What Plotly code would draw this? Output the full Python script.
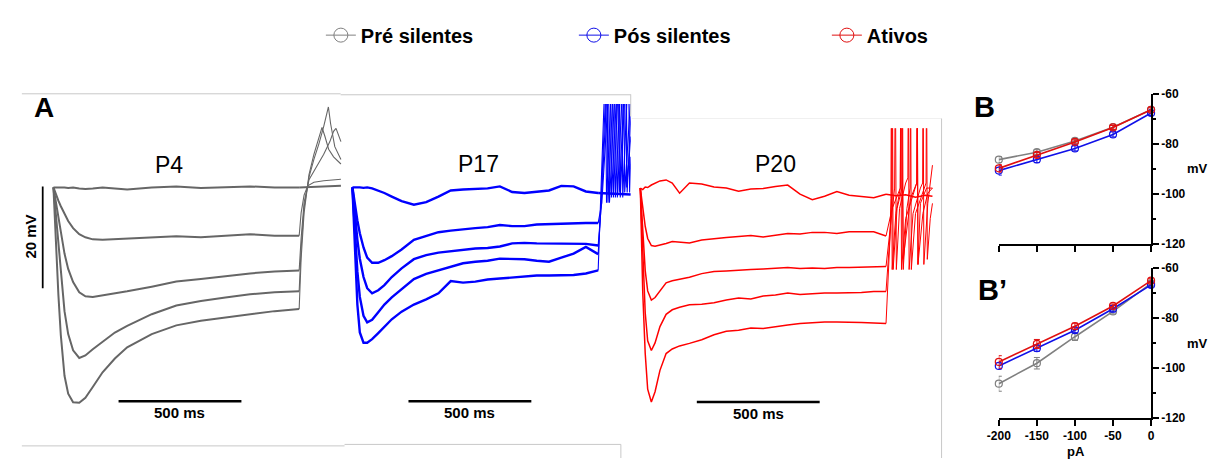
import plotly.graph_objects as go

W, H = 1213, 465
FONT = "Liberation Sans, Arial, sans-serif"

# ---------------- Panel A data: membrane potential change from rest (mV) vs time (ms) ----------------
P4_T = [0, 10, 20, 30, 45, 60, 80, 105, 130, 160, 200, 250, 300, 400, 500, 600, 700, 800, 900, 1000]
P4_V1 = [0, 0, 0, 0.1, 0, -0.1, 0, -0.2, -0.3, -0.2, 0, -0.2, -0.4, 0, 0.2, -0.1, 0.1, 0.2, 0, 0]
P4_V2 = [0, -1.4, -2.6, -3.7, -5.2, -6.6, -8.0, -9.2, -9.8, -10.2, -10.3, -10.2, -10.1, -9.9, -9.6, -9.8, -9.5, -9.2, -9.5, -9.5]
P4_V3 = [0, -3.0, -6.0, -9.0, -13.0, -16.0, -18.6, -20.6, -21.4, -21.5, -21.2, -20.8, -20.4, -19.5, -18.5, -18.0, -17.4, -16.9, -16.5, -16.3]
P4_V4 = [0, -5.5, -11.6, -16.5, -24.3, -28.8, -32.0, -33.5, -33.0, -31.8, -30.4, -28.5, -27.2, -24.9, -23.2, -22.3, -21.6, -21.0, -20.6, -20.4]
P4_V5 = [0, -11.0, -21.0, -29.0, -37.0, -40.5, -42.2, -42.3, -41.3, -39.2, -36.3, -33.6, -31.4, -28.8, -27.1, -26.2, -25.6, -24.9, -24.3, -23.9]
# after the current step (rebound)
P4_PT1 = [1040, 1080, 1120, 1170]
P4_PV1 = [0.1, 0.2, 0.3, 0.3]
P4_PT2 = [1008, 1020, 1035, 1060, 1100, 1170]
P4_PV2 = [-5.0, -1.5, 0.3, 1.0, 1.3, 1.6]
P4_PT3 = [1008, 1020, 1040, 1070, 1100, 1125, 1140, 1150, 1160, 1170]
P4_PV3 = [-10, -3, 1.5, 4.0, 6.5, 9, 11, 11.6, 10.2, 9.0]
P4_PT4 = [1008, 1020, 1040, 1060, 1080, 1100, 1112, 1119, 1128, 1145, 1170]
P4_PV4 = [-12, -4, 2.0, 5.5, 8.5, 12, 14.8, 15.8, 12.5, 8.0, 5.5]
P4_PT5 = [1008, 1020, 1040, 1060, 1080, 1093, 1105, 1120, 1140, 1170]
P4_PV5 = [-14, -5, 2.5, 6.5, 10, 11.8, 10, 7.5, 6, 4.6]

GRID_T = [0, 10, 20, 30, 45, 60, 80, 105, 130, 160, 200, 250, 300, 350, 400, 450, 500,
          550, 600, 650, 700, 750, 800, 850, 900, 950, 1000]
P17_V1 = [0, 0, 0.1, 0, -0.1, 0, -0.2, -0.6, -1.1, -1.8, -2.7, -3.4, -2.9, -1.8, -0.6, -0.4, -0.3, -0.2, 0.2, -0.9, -1.1, -0.8, -0.6, 0.3, 0.2, -0.8, -1.1]
P17_V2 = [0, -3.5, -6.5, -9.0, -11.8, -13.8, -14.8, -14.8, -14.3, -13.5, -12.2, -10.3, -9.5, -8.8, -8.5, -8.2, -8.0, -7.8, -7.4, -7.6, -7.6, -7.3, -7.2, -7.1, -7.0, -7.0, -7.0]
P17_V3 = [0, -5.5, -10.3, -14.0, -17.6, -19.8, -20.8, -20.2, -19.2, -17.6, -15.9, -14.1, -13.3, -12.8, -12.5, -12.3, -12.0, -11.9, -11.6, -11.0, -10.9, -11.0, -11.0, -11.0, -11.0, -11.1, -11.4]
P17_V4 = [0, -9.0, -16.5, -21.5, -25.2, -26.5, -26.0, -24.5, -23.0, -21.6, -20.0, -18.0, -17.0, -16.3, -15.5, -14.9, -14.6, -14.4, -14.0, -14.0, -14.1, -14.4, -14.6, -13.8, -13.0, -11.7, -13.1]
P17_V5 = [0, -12.2, -23.0, -28.5, -30.5, -30.5, -29.8, -28.6, -27.4, -25.9, -24.4, -23.0, -22.0, -20.8, -18.4, -18.7, -18.5, -18.1, -17.9, -17.7, -17.5, -17.3, -17.3, -17.3, -17.2, -16.9, -16.3]
P17_PT1 = [1040, 1080, 1133]
P17_PV1 = [-1.2, -1.3, -1.4]
P17_PT2 = [1015, 1050, 1054, 1082, 1086, 1112, 1116, 1133]
P17_PV2 = [-3, 25, -2, 25, -1, 25, 0, 10]
P17_PT3 = [1012, 1042, 1046, 1074, 1078, 1104, 1108, 1133]
P17_PV3 = [-4, 25, -3, 25, -2, 25, -1, 18]
P17_PT4 = [1010, 1036, 1040, 1066, 1070, 1096, 1100, 1124, 1128, 1133]
P17_PV4 = [-5, 25, -3, 25, -2, 25, -2, 25, -1, 6]
P17_PT5 = [1008, 1030, 1034, 1058, 1062, 1086, 1090, 1114, 1118, 1133]
P17_PV5 = [-5, 25, -3, 25, -2, 25, -2, 25, -1, 14]

P20_V1 = [0, -0.3, 0.2, 0.1, 0.6, 1.0, 1.4, 1.6, 1.0, -1.0, 1.0, 0.8, 0.2, 0.0, -0.6, -0.2, -0.1, 0.3, 0.6, -1.2, -2.3, -1.6, -0.7, -1.4, -1.6, -1.9, -1.2]
P20_V2 = [0, -3.8, -7.5, -9.9, -11.3, -11.4, -11.2, -10.9, -10.5, -10.6, -10.8, -10.2, -9.9, -9.7, -9.5, -9.3, -9.6, -9.2, -8.9, -9.0, -8.7, -8.7, -8.9, -8.6, -8.6, -8.6, -9.4]
P20_V3 = [0, -7.5, -16.2, -20.2, -22.0, -21.5, -20.2, -18.6, -18.2, -17.9, -17.5, -16.8, -16.4, -16.3, -16.1, -16.0, -15.9, -15.7, -15.6, -15.8, -15.7, -15.8, -15.6, -15.6, -15.5, -15.5, -15.4]
P20_V4 = [0, -13.5, -24.5, -30.0, -31.9, -30.4, -27.2, -24.8, -23.9, -23.4, -22.9, -22.8, -22.5, -22.0, -21.6, -21.8, -21.2, -21.0, -20.6, -20.9, -20.7, -20.6, -20.6, -20.6, -20.5, -20.3, -20.3]
P20_V5 = [0, -20.5, -32.5, -39.5, -42.0, -40.0, -35.8, -32.5, -31.6, -31.0, -30.5, -29.8, -28.8, -28.1, -27.9, -27.5, -27.6, -27.2, -26.9, -26.6, -26.4, -26.3, -26.3, -26.3, -26.4, -26.5, -26.6]
P20_PT1 = [1040, 1080, 1120, 1160, 1189]
P20_PV1 = [-1.5, -1.3, -1.8, -1.4, -1.6]
P20_PT2 = [1025, 1050, 1058, 1061, 1070, 1100, 1125, 1127, 1130, 1140, 1165, 1189]
P20_PV2 = [-4, -1, 0, 25, -14, -2, 1, 25, -15, -3, 0, 0]
P20_PT3 = [1020, 1035, 1038, 1042, 1055, 1080, 1089, 1091, 1094, 1110, 1140, 1149, 1151, 1154, 1170, 1189]
P20_PV3 = [-6, 0, 25, -16, -4, 1, 2, 25, -16, -5, 0, 1, 25, -15, -3, 4.5]
P20_PT4 = [1018, 1024, 1026, 1029, 1045, 1065, 1067, 1070, 1085, 1098, 1100, 1103, 1120, 1163, 1165, 1168, 1180, 1189]
P20_PV4 = [-8, -1, 25, -16, -4, 0, 25, -16, -4, 0, 25, -16, -5, 1, 25, -14, -6, -3]
P20_PT5 = [1016, 1020, 1022, 1025, 1040, 1058, 1060, 1063, 1080, 1125, 1127, 1130, 1150, 1170, 1189]
P20_PV5 = [-10, -2, 25, -16, -5, 0, 25, -16, -6, 1, 25, -15, -5, -1, 0]

SCALE_MS = 500
SCALE_MV = 20

# ---------------- Panel B / B' data ----------------
CURRENT = [-200, -150, -100, -50, 0]
X_TICKS = [-200, -150, -100, -50, 0]
X_TICKTEXT = ["-200", "-150", "-100", "-50", "0"]
Y_TICKS = [-120, -100, -80, -60]
Y_TICKTEXT = ["-120", "-100", "-80", "-60"]
GROUPS = ["Pré silentes", "Pós silentes", "Ativos"]
COLORS = ["#808080", "#1010e8", "#e01010"]

B_PRE = [-86.2, -83.2, -78.7, -73.2, -66.2]
B_PRE_ERR = [1.2, 1.0, 0.8, 0.8, 0.8]
B_POS = [-90.6, -86.1, -81.7, -76.1, -67.5]
B_POS_ERR = [1.8, 1.3, 1.0, 1.0, 1.0]
B_ATI = [-89.7, -84.3, -79.1, -73.3, -66.2]
B_ATI_ERR = [1.5, 1.0, 0.8, 0.8, 0.8]

B2_PRE = [-106.2, -98.0, -87.4, -77.3, -66.1]
B2_PRE_ERR = [3.0, 2.3, 1.5, 1.0, 1.0]
B2_POS = [-99.1, -92.0, -84.8, -76.2, -66.7]
B2_POS_ERR = [1.2, 1.2, 1.0, 1.3, 1.0]
B2_ATI = [-97.5, -90.3, -83.2, -75.1, -65.0]
B2_ATI_ERR = [2.5, 1.8, 1.2, 0.8, 0.8]

# ---------------- layout helpers (pixel geometry) ----------------
PX_PER_MS = 0.249
PX_PER_MV = 5.25


def fx(px):
    return px / W


def fy(py):
    return 1 - py / H


fig = go.Figure()

# panel A axes geometry in pixels
PANELS = [
    dict(x0=42, y0=186, left=30, right=336, top=88, bottom=432),
    dict(x0=345, y0=186, left=337, right=627, top=100, bottom=432),
    dict(x0=636.7, y0=186.7, left=628, right=940, top=125, bottom=432),
]

panel_data = [
    ("#666666", 2.0, 1.1, P4_T, [P4_V1, P4_V2, P4_V3, P4_V4, P4_V5],
     [(P4_PT1, P4_PV1), (P4_PT2, P4_PV2), (P4_PT3, P4_PV3), (P4_PT4, P4_PV4), (P4_PT5, P4_PV5)]),
    ("#0000ff", 2.4, 1.1, GRID_T, [P17_V1, P17_V2, P17_V3, P17_V4, P17_V5],
     [(P17_PT1, P17_PV1), (P17_PT2, P17_PV2), (P17_PT3, P17_PV3), (P17_PT4, P17_PV4), (P17_PT5, P17_PV5)]),
    ("#ff0000", 1.5, 1.0, GRID_T, [P20_V1, P20_V2, P20_V3, P20_V4, P20_V5],
     [(P20_PT1, P20_PV1), (P20_PT2, P20_PV2), (P20_PT3, P20_PV3), (P20_PT4, P20_PV4), (P20_PT5, P20_PV5)]),
]

layout_axes = {}
for i, (p, (color, lw, lw_post, tgrid, vs, posts)) in enumerate(zip(PANELS, panel_data), start=1):
    xa = "x" if i == 1 else f"x{i}"
    ya = "y" if i == 1 else f"y{i}"
    for k_tr, (v, (pt, pv)) in enumerate(zip(vs, posts)):
        # step response (thicker)
        fig.add_trace(go.Scatter(x=tgrid, y=v, mode="lines",
                                 line=dict(color=color, width=lw), xaxis=xa, yaxis=ya,
                                 showlegend=False, hoverinfo="skip"))
        # rebound after the step (thin, as recorded spikes)
        w_post = lw if k_tr == 0 else lw_post
        fig.add_trace(go.Scatter(x=[tgrid[-1]] + pt, y=[v[-1]] + pv, mode="lines",
                                 line=dict(color=color, width=w_post), xaxis=xa, yaxis=ya,
                                 showlegend=False, hoverinfo="skip"))
    xr = [(p["left"] - p["x0"]) / PX_PER_MS, (p["right"] - p["x0"]) / PX_PER_MS]
    yr = [(p["y0"] - p["bottom"]) / PX_PER_MV, (p["y0"] - p["top"]) / PX_PER_MV]
    kx = "xaxis" if i == 1 else f"xaxis{i}"
    ky = "yaxis" if i == 1 else f"yaxis{i}"
    layout_axes[kx] = dict(domain=[fx(p["left"]), fx(p["right"])], range=xr, visible=False,
                           anchor=ya, fixedrange=True)
    layout_axes[ky] = dict(domain=[fy(p["bottom"]), fy(p["top"])], range=yr, visible=False,
                           anchor=xa, fixedrange=True)

# Panel B and B' axes
B_LEFT, B_RIGHT = 1000, 1154.3
B_BOXES = [(90, 244.3), (269.3, 424)]
b_sets = [
    [(B_PRE, B_PRE_ERR), (B_POS, B_POS_ERR), (B_ATI, B_ATI_ERR)],
    [(B2_PRE, B2_PRE_ERR), (B2_POS, B2_POS_ERR), (B2_ATI, B2_ATI_ERR)],
]
for j, ((top, bottom), sets) in enumerate(zip(B_BOXES, b_sets)):
    k = 4 + j
    xa, ya = f"x{k}", f"y{k}"
    for (vals, err), col in zip(sets, COLORS):
        fig.add_trace(go.Scatter(
            x=CURRENT, y=vals, mode="lines+markers", xaxis=xa, yaxis=ya,
            line=dict(color=col, width=1.6),
            marker=dict(symbol="circle-open", size=7, color=col, line=dict(width=1.2, color=col)),
            error_y=dict(type="data", array=err, color=col, thickness=1, width=3),
            cliponaxis=False, showlegend=False, hoverinfo="skip"))
    layout_axes[f"xaxis{k}"] = dict(
        domain=[fx(B_LEFT), fx(B_RIGHT)], range=[-200, 0], anchor=ya,
        showline=True, linecolor="black", linewidth=1.5, ticks="outside", ticklen=6,
        tickwidth=1.5, tickcolor="black", tickvals=X_TICKS, ticktext=X_TICKTEXT,
        showticklabels=(j == 1), showgrid=False, zeroline=False, fixedrange=True,
        tickfont=dict(family=FONT, size=12, color="black", weight="bold"))
    layout_axes[f"yaxis{k}"] = dict(
        domain=[fy(bottom), fy(top)], range=[-120, -60], anchor=xa, side="right",
        showline=True, linecolor="black", linewidth=1.5, ticks="outside", ticklen=6,
        tickwidth=1.5, tickcolor="black", tickvals=Y_TICKS, ticktext=Y_TICKTEXT,
        minor=dict(ticks="outside", ticklen=3, tickwidth=1.5, tickcolor="black",
                   tickvals=[-110, -90, -70]),
        showgrid=False, zeroline=False, fixedrange=True,
        tickfont=dict(family=FONT, size=12, color="black", weight="bold"))

# legend entries (larger symbols, like the figure key)
for name, col in zip(GROUPS, COLORS):
    fig.add_trace(go.Scatter(x=[None], y=[None], mode="lines+markers", name=name,
                             xaxis="x4", yaxis="y4",
                             line=dict(color=col, width=1),
                             marker=dict(symbol="circle-open", size=14, color=col,
                                         line=dict(width=1, color=col))))

# ---------------- shapes: scale bars and frame lines ----------------
shapes = []
BAR_START = [265, 228, 230]
BAR_V = -42.0
for i, (p, t0) in enumerate(zip(PANELS, BAR_START), start=1):
    xa = "x" if i == 1 else f"x{i}"
    ya = "y" if i == 1 else f"y{i}"
    shapes.append(dict(type="line", xref=xa, yref=ya, x0=t0, x1=t0 + SCALE_MS,
                       y0=BAR_V, y1=BAR_V, line=dict(color="black", width=2.5)))
shapes.append(dict(type="line", xref="x", yref="y", x0=-44.2, x1=-44.2, y0=0.2,
                   y1=0.2 - SCALE_MV, line=dict(color="black", width=2)))

FRAME = "#c8c8c8"
for (x0, y0, x1, y1, c) in [
    (10, 89.5, 333, 89.5, FRAME), (333, 90.5, 627, 90.5, FRAME), (627, 90, 627, 113, FRAME),
    (628, 115, 942, 115, "#f0f0f0"), (942, 115, 942, 465, FRAME),
    (10, 452.5, 337, 452.5, FRAME), (337, 451, 617, 451, FRAME), (617, 451, 617, 465, FRAME),
]:
    shapes.append(dict(type="line", xref="paper", yref="paper", x0=fx(x0), x1=fx(x1),
                       y0=fy(y0), y1=fy(y1), line=dict(color=c, width=1)))

# ---------------- annotations ----------------
ann = []


def label(text, px, py, size, bold=False, angle=0, xanchor="center"):
    ann.append(dict(text=text, x=fx(px), y=fy(py), xref="paper", yref="paper",
                    showarrow=False, xanchor=xanchor, yanchor="middle", textangle=angle,
                    font=dict(family=FONT, size=size, color="black",
                              weight="bold" if bold else "normal")))


label("A", 32, 104, 28, bold=True)
label("B", 985, 103, 29, bold=True)
label("B’", 994, 292, 29, bold=True)
label("P4", 159, 163, 23)
label("P17", 473, 162, 23)
label("P20", 774, 162, 23)
label("20 mV", 19, 237, 15, bold=True, angle=-90)
label("mV", 1201, 167, 13, bold=True)
label("mV", 1201, 347, 13, bold=True)
label("pA", 1078, 458, 13, bold=True)
for i, t0 in enumerate(BAR_START, start=1):
    xa = "x" if i == 1 else f"x{i}"
    ya = "y" if i == 1 else f"y{i}"
    ann.append(dict(text="500 ms", x=t0 + SCALE_MS / 2, y=BAR_V, xref=xa, yref=ya,
                    showarrow=False, yanchor="top", yshift=-1,
                    font=dict(family=FONT, size=15, color="black", weight="bold")))

fig.update_layout(
    width=W, height=H, autosize=False,
    margin=dict(l=0, r=0, t=0, b=0),
    paper_bgcolor="white", plot_bgcolor="rgba(0,0,0,0)",
    shapes=shapes, annotations=ann,
    showlegend=True,
    legend=dict(orientation="h", x=fx(313), y=fy(29), xanchor="left", yanchor="middle",
                entrywidthmode="pixels", entrywidth=208, bgcolor="rgba(0,0,0,0)",
                font=dict(family=FONT, size=20, color="black", weight="bold"),
                itemclick=False, itemdoubleclick=False),
    **layout_axes,
)

fig.write_html("out.html")
